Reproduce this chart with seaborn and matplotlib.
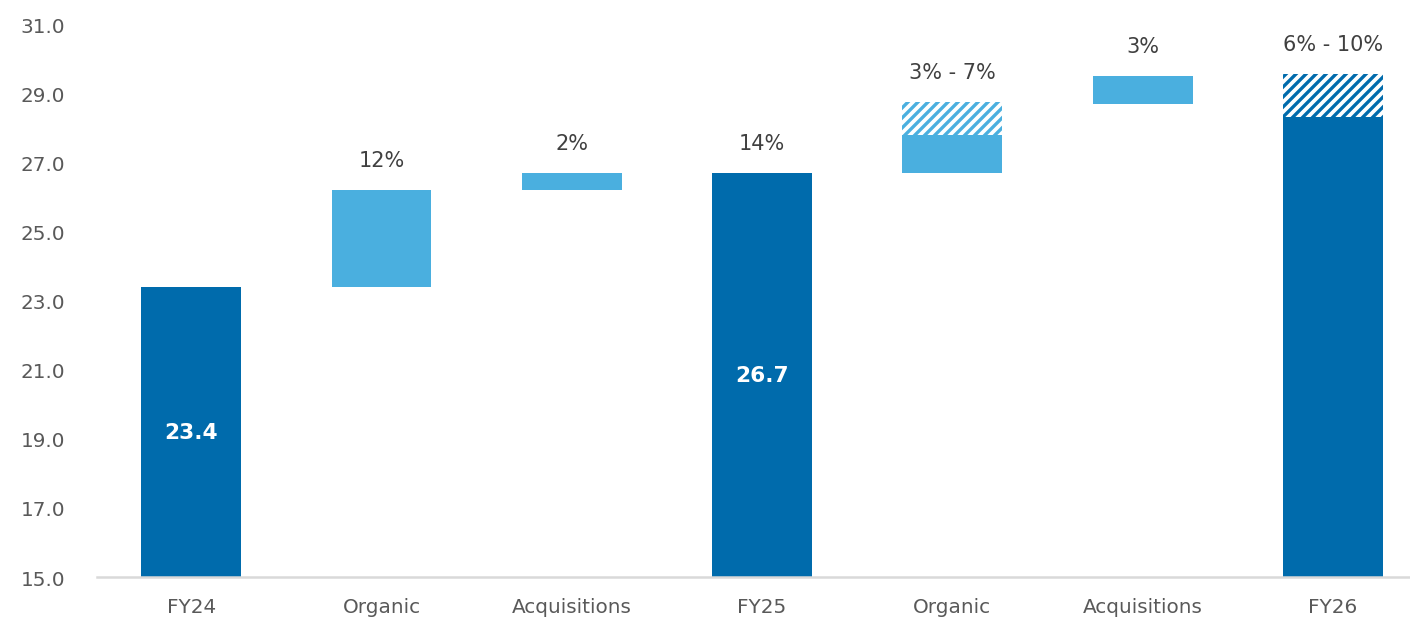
import matplotlib
matplotlib.use("Agg")
import matplotlib.pyplot as plt
import numpy as np
import pandas as pd
import seaborn as sns

# Revenue bridge FY24 -> FY26 (in billions)
step_labels = ["FY24", "Organic", "Acquisitions", "FY25", "Organic", "Acquisitions", "FY26"]
step_keys = ["FY24", "Organic FY25", "Acquisitions FY25", "FY25",
             "Organic FY26", "Acquisitions FY26", "FY26"]
step_kind = ["total", "change", "change", "total", "change", "change", "total"]
bar_base = [0.0, 23.4, 26.2, 0.0, 26.7, 28.7, 0.0]
bar_top = [23.4, 26.2, 26.7, 26.7, 27.8, 29.5, 28.3]
# upper end of the guidance range (hatched); NaN where there is no range
range_top = [np.nan, np.nan, np.nan, np.nan, 28.75, np.nan, 29.55]
growth_labels = ["", "12%", "2%", "14%", "3% - 7%", "3%", "6% - 10%"]
value_labels = ["23.4", "", "", "26.7", "", "", ""]

DARK = "#006BAC"
LIGHT = "#4AAFDF"
TICK_GREY = "#595959"
TEXT_GREY = "#404040"

sns.set_theme(style="white")
plt.rcParams["font.family"] = ["DejaVu Sans"]
plt.rcParams["hatch.linewidth"] = 2.0

df = pd.DataFrame({
    "step": step_keys,
    "kind": step_kind,
    "base": bar_base,
    "top": bar_top,
    "range_top": range_top,
})
df["height"] = df["top"] - df["base"]
df["range_height"] = df["range_top"] - df["top"]

fig = plt.figure(figsize=(11.75, 5.1833), dpi=120)
ax = fig.add_axes([0.0688, 0.0707, 0.9312, 0.8891])

bar_w = 0.525

totals = df[df["kind"] == "total"]
sns.barplot(data=totals, x="step", y="height", order=step_keys,
            bottom=totals["base"].values, color=DARK, saturation=1,
            width=bar_w, errorbar=None, linewidth=0, ax=ax)

changes = df[df["kind"] == "change"]
sns.barplot(data=changes, x="step", y="height", order=step_keys,
            bottom=changes["base"].values, color=LIGHT, saturation=1,
            width=bar_w, errorbar=None, linewidth=0, ax=ax)

# hatched range segments on top of the solid bars
ranges = df[df["range_height"].notna()]
sns.barplot(data=ranges, x="step", y="range_height", order=step_keys,
            bottom=ranges["top"].values, color="white", saturation=1,
            width=bar_w, errorbar=None, linewidth=0, ax=ax)
range_colors = [LIGHT if k == "change" else DARK for k in ranges["kind"]]
for patch, col in zip(ax.containers[-1], range_colors):
    patch.set_facecolor("white")
    patch.set_edgecolor(col)
    patch.set_hatch("////")
    patch.set_linewidth(0)

# growth labels above each step
for i, row in df.iterrows():
    lab = growth_labels[i]
    if not lab:
        continue
    y = row["range_top"] if not np.isnan(row["range_top"]) else row["top"]
    ax.annotate(lab, (i, y), xytext=(0, 12), textcoords="offset points",
                ha="center", va="bottom", fontsize=12.5, color=TEXT_GREY)

# values inside total bars
for i, row in df.iterrows():
    lab = value_labels[i]
    if not lab:
        continue
    ax.text(i, (15.0 + row["top"]) / 2, lab, ha="center", va="center",
            fontsize=13, fontweight="bold", color="white")

ax.set_ylim(15, 31)
ax.set_yticks(np.arange(15, 31.1, 2))
ax.set_yticklabels([f"{v:.1f}" for v in np.arange(15, 31.1, 2)])
ax.set_xlim(-0.495, 6.405)
ax.set_xticks(range(len(step_labels)))
ax.set_xticklabels(step_labels)
ax.set_xlabel("")
ax.set_ylabel("")

for side in ["left", "right", "top"]:
    ax.spines[side].set_visible(False)
ax.spines["bottom"].set_color("#D9D9D9")
ax.spines["bottom"].set_linewidth(1.5)

ax.tick_params(axis="y", length=0, pad=19, labelsize=12, labelcolor=TICK_GREY)
ax.tick_params(axis="x", length=0, pad=12, labelsize=12, labelcolor=TICK_GREY)
ax.grid(False)

fig.savefig("out.png", dpi=120)
